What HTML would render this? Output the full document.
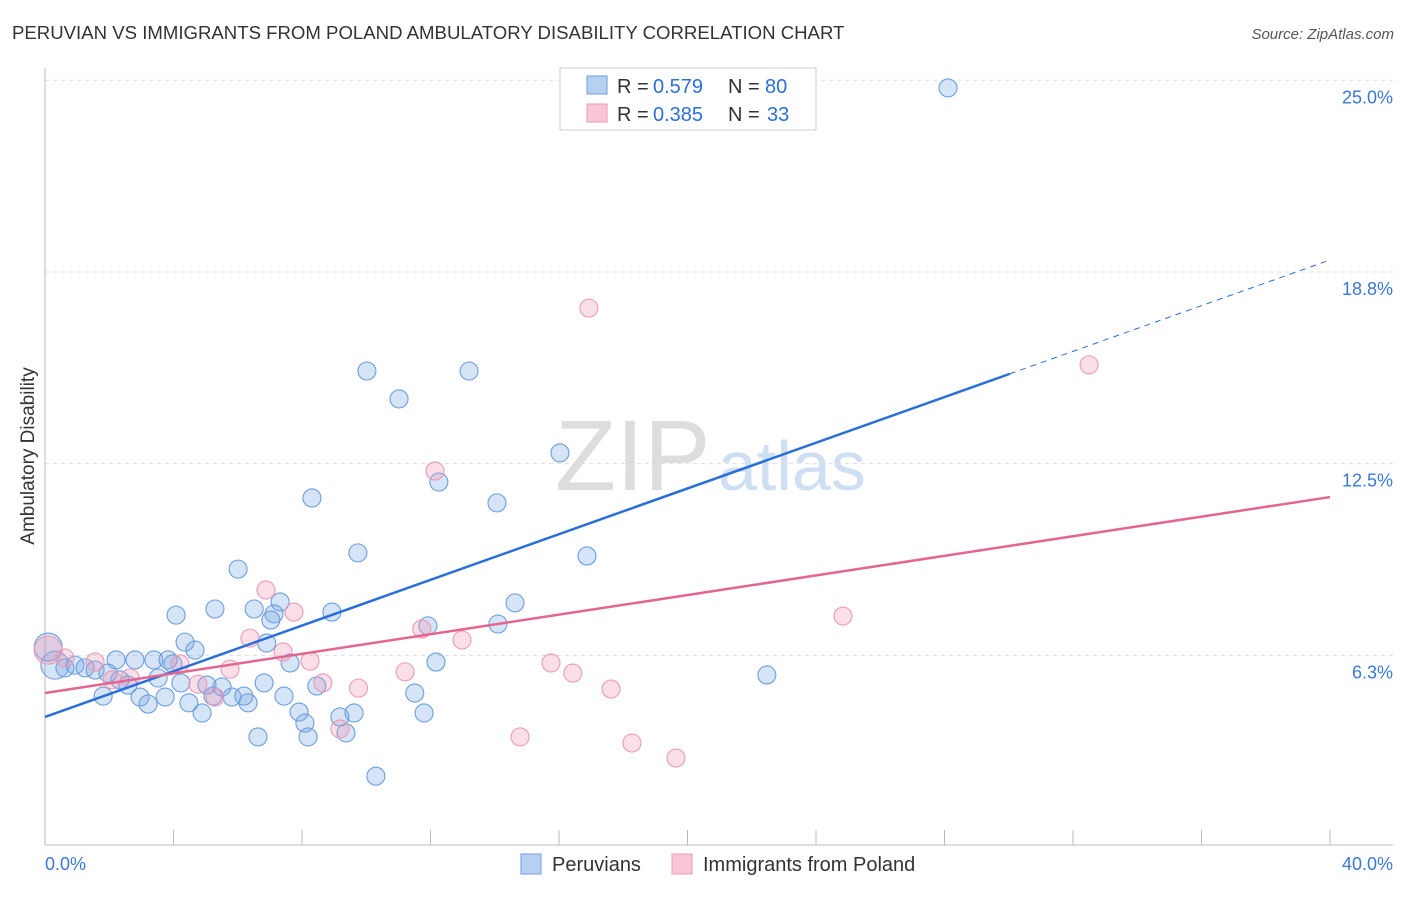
<!DOCTYPE html>
<html><head><meta charset="utf-8"><style>
body{margin:0;background:#fff;font-family:"Liberation Sans",sans-serif}
svg text{font-family:"Liberation Sans",sans-serif}
</style></head><body>
<svg width="1406" height="892" xmlns="http://www.w3.org/2000/svg">
<text x="12" y="39" font-size="18.6" fill="#333">PERUVIAN VS IMMIGRANTS FROM POLAND AMBULATORY DISABILITY CORRELATION CHART</text>
<text x="1394" y="39" font-size="15" fill="#555" text-anchor="end" font-style="italic">Source: ZipAtlas.com</text>
<text x="555" y="490" font-size="100" fill="#ddd" font-family="Liberation Serif">ZIP</text>
<text x="718" y="490" font-size="70" fill="#cfdff3">atlas</text>
<g id="grid"></g>
<g id="axes"></g>
<g id="pts"></g>
<g id="lines"></g>
<text x="34" y="456" font-size="19" fill="#333" text-anchor="middle" transform="rotate(-90 34 456)">Ambulatory Disability</text>
<g>
<rect x="560" y="68" width="256" height="62" fill="#fff" stroke="#ccc"/>
<rect x="587" y="76" width="20" height="18" fill="#b7d0f2" stroke="#6f9ee0"/>
<rect x="587" y="104" width="20" height="18" fill="#f8c6d6" stroke="#eb9ab5"/>
<text y="93" font-size="20" fill="#333"><tspan x="617">R =</tspan><tspan x="653" fill="#2c6fd8">0.579</tspan><tspan x="728">N =</tspan><tspan x="765" fill="#2c6fd8">80</tspan></text>
<text y="121" font-size="20" fill="#333"><tspan x="617">R =</tspan><tspan x="653" fill="#2c6fd8">0.385</tspan><tspan x="728">N =</tspan><tspan x="767" fill="#2c6fd8">33</tspan></text>
</g>
<g>
<rect x="521" y="854" width="20" height="20" fill="#b7d0f2" stroke="#6f9ee0"/>
<text x="552" y="871" font-size="20" fill="#333">Peruvians</text>
<rect x="672" y="854" width="20" height="20" fill="#f8c6d6" stroke="#eb9ab5"/>
<text x="703" y="871" font-size="20" fill="#333">Immigrants from Poland</text>
</g>
</svg>
<script>
const yTicks=[6.25,12.5,18.75,25];
const yTickLabels=["6.3%","12.5%","18.8%","25.0%"];
const xTicks=[0,4,8,12,16,20,24,28,32,36,40];
const bluePts=[[28.11,24.75],[10.02,15.52],[13.2,15.52],[11.02,14.61],[16.03,12.85],[12.26,11.9],[8.31,11.38],[14.07,11.22],[9.74,9.59],[16.87,9.49],[6.01,9.06],[14.63,7.96],[4.08,7.56],[5.29,7.76],[6.51,7.76],[7.32,7.99],[7.13,7.6],[7.03,7.4],[8.93,7.66],[11.92,7.21],[14.1,7.27],[4.36,6.68],[4.67,6.42],[6.9,6.65],[2.21,6.1],[2.8,6.1],[3.39,6.1],[3.83,6.1],[3.98,5.97],[7.63,6.0],[12.17,6.03],[22.47,5.61],[0.31,5.93],[0.62,5.84],[0.93,5.93],[1.25,5.84],[1.56,5.77],[1.96,5.67],[2.33,5.45],[2.58,5.28],[3.52,5.51],[4.23,5.35],[5.04,5.28],[5.51,5.22],[6.82,5.35],[8.46,5.25],[1.81,4.92],[2.96,4.89],[3.21,4.66],[3.74,4.89],[4.48,4.7],[5.23,4.92],[5.82,4.89],[6.32,4.7],[6.19,4.92],[7.44,4.92],[4.89,4.37],[7.91,4.4],[8.09,4.04],[9.18,4.24],[9.62,4.37],[11.51,5.02],[11.8,4.37],[6.63,3.59],[8.19,3.59],[9.37,3.72],[10.3,2.31],[0.1,6.52]];
const pinkPts=[[16.93,17.57],[32.5,15.72],[12.14,12.26],[6.88,8.38],[7.75,7.66],[6.38,6.81],[11.73,7.11],[12.98,6.75],[24.84,7.53],[0.62,6.16],[1.56,6.03],[4.2,5.97],[7.41,6.36],[8.25,6.06],[5.76,5.8],[11.21,5.71],[15.75,6.0],[16.43,5.67],[2.65,5.51],[4.76,5.31],[8.65,5.35],[9.76,5.18],[17.62,5.15],[5.29,4.89],[9.18,3.85],[14.79,3.59],[18.27,3.39],[19.64,2.9],[2.09,5.45],[0.1,6.42]];
const blueTrend=[4.24,19.14];
const pinkTrend=[5.02,11.41];
const NS="http://www.w3.org/2000/svg";
const X=v=>45+v*32.125, Y=v=>847-v*30.67;
function mk(t,a,p){const e=document.createElementNS(NS,t);for(const k in a)e.setAttribute(k,a[k]);document.getElementById(p).appendChild(e);return e;}
yTicks.forEach((t,i)=>{
 const l=mk('line',{x1:45,x2:1393,y1:Y(t),y2:Y(t),stroke:'#ddd','stroke-dasharray':'4,4'},'grid');
 
 
 const tx=mk('text',{x:1393,y:Y(t)+23,'font-size':18,fill:'#3a78d8','text-anchor':'end'},'grid');tx.textContent=yTickLabels[i];
 
 
});
mk('line',{x1:45,x2:45,y1:68,y2:845,stroke:'#bbb'},'axes');
mk('line',{x1:45,x2:1393,y1:845,y2:845,stroke:'#bbb'},'axes');
xTicks.forEach(t=>{const l=mk('line',{x1:X(t),x2:X(t),y1:830,y2:845,stroke:'#bbb'},'axes');
 
 });
let a=mk('text',{x:45,y:870,'font-size':18,fill:'#3a78d8'},'axes');a.textContent=xTicks[0].toFixed(1)+'%';


a=mk('text',{x:1393,y:870,'font-size':18,fill:'#3a78d8','text-anchor':'end'},'axes');a.textContent=xTicks[xTicks.length-1].toFixed(1)+'%';


function dots(arr,fill,stroke,name){arr.forEach((p,i)=>{const r=(p[0]<0.5)?14:9;
 const c=mk('circle',{cx:X(p[0]),cy:Y(p[1]),r:r,fill:fill,stroke:stroke,'stroke-width':1.1},'pts');
 
 });}
dots(bluePts,'rgba(120,165,230,0.3)','#6a9ee0','peruvian-point');
dots(pinkPts,'rgba(240,150,180,0.3)','#eb9ab5','poland-point');
const bx=30.03;
let l=mk('line',{x1:X(0),y1:Y(blueTrend[0]),x2:X(bx),y2:Y(blueTrend[0]+(blueTrend[1]-blueTrend[0])*bx/40),stroke:'#2a6fd8','stroke-width':2.5},'lines');


l=mk('line',{x1:X(bx),y1:Y(blueTrend[0]+(blueTrend[1]-blueTrend[0])*bx/40),x2:X(40),y2:Y(blueTrend[1]),stroke:'#2a6fd8','stroke-width':1,'stroke-dasharray':'6,5'},'lines');


l=mk('line',{x1:X(0),y1:Y(pinkTrend[0]),x2:X(40),y2:Y(pinkTrend[1]),stroke:'#e4668f','stroke-width':2.5},'lines');


</script>
</body></html>
